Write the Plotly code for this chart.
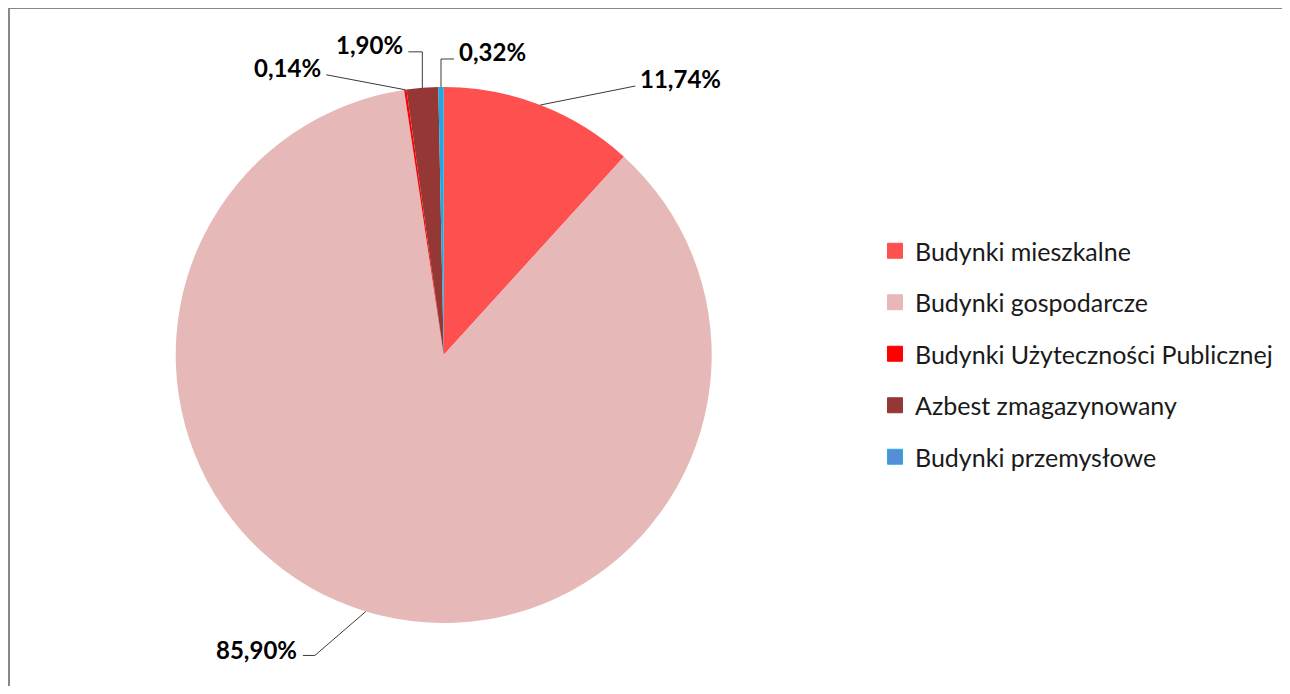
import math
import plotly.graph_objects as go

categories = ["Budynki mieszkalne", "Budynki gospodarcze", "Budynki Użyteczności Publicznej",
              "Azbest zmagazynowany", "Budynki przemysłowe"]
values = [11.74, 85.90, 0.14, 1.90, 0.32]
labels_txt = ["11,74%", "85,90%", "0,14%", "1,90%", "0,32%"]
pie_colors = ["#FF5050", "#E6B9B8", "#FF0000", "#953735", "#22A7E0"]
legend_colors = ["#FF5050", "#E6B9B8", "#FF0000", "#953735", "#558ED5"]
legend_lines = ["#FF5050", "#E6B9B8", "#FF0000", "#953735", "#1FB4E8"]

OFF = 8                      # page body margin
W, H = 1290 - 2 * OFF, 694 - 2 * OFF
CX, CY, R = 443.7 - OFF, 355.0 - OFF, 268.0   # pie centre / radius in px (layout)

def px(x):
    return x / W

def py(y):
    return 1 - y / H

fig = go.Figure()
fig.add_trace(go.Pie(
    labels=categories, values=values, sort=False, direction="clockwise", rotation=0,
    marker=dict(colors=pie_colors, line=dict(width=0)),
    textinfo="none", hoverinfo="label+percent", showlegend=False,
    domain=dict(x=[px(CX - R), px(CX + R)], y=[py(CY + R), py(CY - R)]),
))

# legend entries via dummy traces (for spacing control)
for i, name in enumerate(categories):
    fig.add_trace(go.Scatter(
        x=[None], y=[None], mode="markers", name=name, legendgroup=str(i),
        marker=dict(symbol="square", size=15, color=legend_colors[i],
                    line=dict(color=legend_lines[i], width=1)),
    ))

# label layout: leader-line offsets from anchor, text offset & anchor side
label_style = [
    dict(path=[(95, -19)], text=(98, -27), side="left"),
    dict(path=[(-51, 44), (-63, 44)], text=(-67, 38), side="right"),
    dict(path=[(-79, -15)], text=(-82, -22), side="right"),
    dict(path=[(0, -36), (-14, -36)], text=(-17, -43), side="right"),
    dict(path=[(0, -28), (13, -28)], text=(16, -36), side="left"),
]

total = sum(values)
cum = 0.0
shapes = []
annotations = []
for i, v in enumerate(values):
    mid = (cum + v / 2) / total * 2 * math.pi
    cum += v
    ax = CX + R * math.sin(mid)
    ay = CY - R * math.cos(mid)
    st = label_style[i]
    pts = [(ax, ay)] + [(ax + dx, ay + dy) for dx, dy in st["path"]]
    d = "M " + " L ".join(f"{px(x):.5f},{py(y):.5f}" for x, y in pts)
    shapes.append(dict(type="path", xref="paper", yref="paper", path=d,
                       line=dict(color="#3A3A3A", width=1)))
    tx, ty = ax + st["text"][0], ay + st["text"][1]
    annotations.append(dict(x=px(tx), y=py(ty), xref="paper", yref="paper",
                            text=f"<b>{labels_txt[i]}</b>", showarrow=False,
                            xanchor=st["side"], yanchor="middle",
                            font=dict(family="Lato", size=24, color="#000000")))

# chart frame (only left and top edges are visible in the reference)
fx, fy = px(9 - OFF), py(8 - OFF)
shapes.append(dict(type="path", xref="paper", yref="paper",
                   path=f"M {fx:.5f},-0.02 L {fx:.5f},{fy:.5f} L 1.02,{fy:.5f}",
                   line=dict(color="#878787", width=2), layer="below"))

fig.update_layout(
    width=W, height=H, margin=dict(l=0, r=0, t=0, b=0),
    paper_bgcolor="white", plot_bgcolor="white",
    xaxis=dict(visible=False), yaxis=dict(visible=False),
    shapes=shapes, annotations=annotations,
    legend=dict(x=px(875 - OFF), y=py(228 - OFF), xanchor="left", yanchor="top",
                traceorder="grouped", tracegroupgap=16,
                font=dict(family="Lato", size=25, color="#1A1A1A"),
                bgcolor="rgba(0,0,0,0)"),
)

fig.write_html("out.html")
